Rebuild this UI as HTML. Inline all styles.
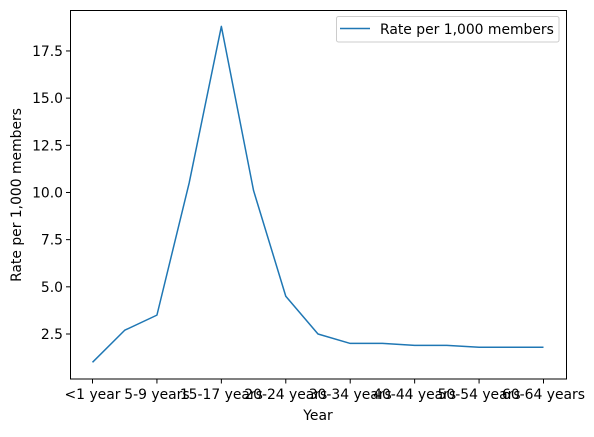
<!DOCTYPE html>
<html><head><meta charset="utf-8"><style>
body{margin:0;background:#fff}
svg text{font-family:"DejaVu Sans","Liberation Sans",sans-serif;font-size:13.9px;fill:#000}
</style></head><body>
<svg id="chart" width="594" height="432" viewBox="0 0 594 432">
<rect x="0" y="0" width="594" height="432" fill="#fff"/>
<g id="plot"></g>
<rect x="70.5" y="10.5" width="496" height="368.5" fill="none" stroke="#000" stroke-width="1"/>
<g>
<rect x="336.5" y="16.5" width="222.5" height="25.5" rx="2" fill="#fff" stroke="#ccc"/>
<line x1="340" y1="28.5" x2="370" y2="28.5" stroke="#1f77b4" stroke-width="1.5"/>
<text x="380" y="34">Rate per 1,000 members</text>
</g>
<text x="318" y="420" text-anchor="middle">Year</text>
<text transform="translate(21,195) rotate(-90)" text-anchor="middle">Rate per 1,000 members</text>
</svg>
<script>
const categories=["<1 year","1-4 years","5-9 years","10-14 years","15-17 years","18-19 years","20-24 years","25-29 years","30-34 years","35-39 years","40-44 years","45-49 years","50-54 years","55-59 years","60-64 years"];
const values=[1.0,2.7,3.5,10.5,18.8,10.1,4.5,2.5,2.0,2.0,1.9,1.9,1.8,1.8,1.8];
const yTicks=[2.5,5.0,7.5,10.0,12.5,15.0,17.5];
const xTickIdx=[0,2,4,6,8,10,12,14];
const NS="http://www.w3.org/2000/svg";
const g=document.getElementById('plot');
function xs(i){return 92.5+i*(543.5-92.5)/(categories.length-1);}
function ys(v){return 334-(v-2.5)*18.87;}
function mk(t,a){const e=document.createElementNS(NS,t);for(const k in a)e.setAttribute(k,a[k]);g.appendChild(e);return e;}
yTicks.forEach(v=>{
const y=ys(v);
const l=mk('line',{x1:66,x2:70.5,y1:y,y2:y,stroke:'#000'});


const t=mk('text',{x:63,y:y+5,'text-anchor':'end'});t.textContent=v.toFixed(1);


});
xTickIdx.forEach(i=>{
const x=xs(i);
const l=mk('line',{x1:x,x2:x,y1:379,y2:383.5,stroke:'#000'});


const t=mk('text',{x:x,y:399,'text-anchor':'middle'});t.textContent=categories[i];


});
const p=mk('polyline',{points:values.map((v,i)=>xs(i)+','+ys(v)).join(' '),fill:'none',stroke:'#1f77b4','stroke-width':1.5,'stroke-linejoin':'round'});


</script>
</body></html>
